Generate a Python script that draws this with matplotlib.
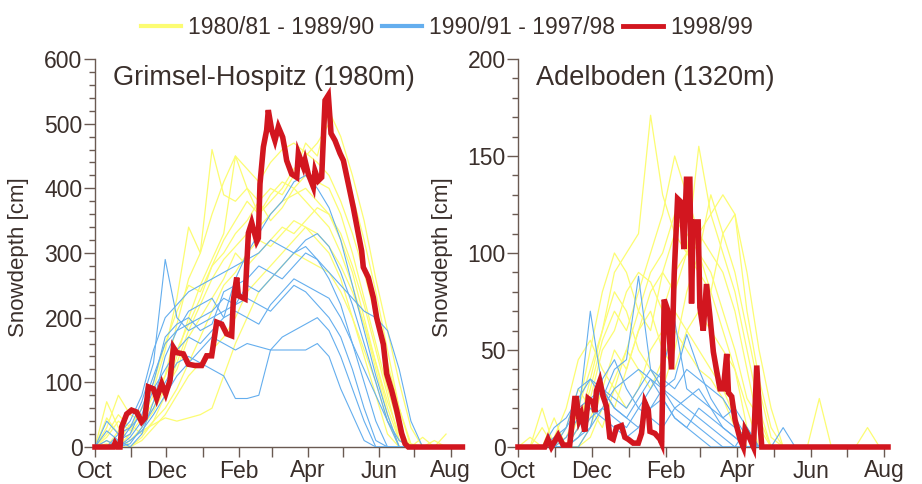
import numpy as np
import matplotlib
matplotlib.use("Agg")
import matplotlib.pyplot as plt
from matplotlib.lines import Line2D
from matplotlib.ticker import MultipleLocator, FixedLocator

plt.rcParams['font.family'] = ['Liberation Sans', 'DejaVu Sans']

# ---------------- data ----------------
month_days = [0, 31, 61, 92, 123, 151, 182, 212, 243, 273, 304]
month_labels = ["Oct", "", "Dec", "", "Feb", "", "Apr", "", "Jun", "", "Aug"]
legend_labels = ["1980/81 - 1989/90", "1990/91 - 1997/98", "1998/99"]
titles = ["Grimsel-Hospitz (1980m)", "Adelboden (1320m)"]

# common 10-day grid (days since 1 Oct) for the background seasons
bg_days = [0, 10, 20, 30, 40, 50, 60, 70, 80, 90, 100, 110, 120, 130, 140, 150,
           160, 170, 180, 190, 200, 210, 220, 230, 240, 250, 260, 270, 280, 290, 300]

# Grimsel 1980s (yellow)
g_y1 = [0, 15, 40, 25, 60, 90, 150, 230, 340, 300, 360, 410, 450, 430, 410, 440, 460, 470, 455, 440, 420, 380, 330, 270, 200, 130, 60, 0, 0, 0, 0]
g_y2 = [0, 5, 0, 20, 45, 80, 110, 190, 260, 300, 460, 390, 380, 400, 360, 380, 400, 430, 450, 470, 500, 450, 390, 320, 240, 150, 60, 5, 0, 0, 0]
g_y3 = [0, 70, 30, 10, 30, 55, 90, 140, 200, 250, 290, 330, 450, 400, 380, 350, 370, 400, 380, 360, 340, 300, 250, 190, 120, 50, 0, 0, 0, 10, 0]
g_y4 = [0, 0, 10, 35, 20, 40, 60, 90, 130, 170, 210, 250, 270, 300, 320, 310, 330, 350, 340, 320, 300, 260, 200, 140, 80, 20, 0, 0, 0, 0, 0]
g_y5 = [0, 30, 80, 50, 40, 60, 110, 150, 190, 230, 280, 300, 330, 350, 380, 400, 390, 420, 470, 450, 520, 480, 420, 350, 260, 180, 100, 30, 0, 0, 0]
g_y6 = [0, 0, 0, 10, 25, 35, 45, 40, 45, 50, 60, 110, 160, 200, 240, 260, 280, 300, 290, 280, 270, 240, 200, 150, 100, 40, 0, 0, 0, 0, 0]
g_y7 = [0, 20, 50, 30, 60, 100, 160, 210, 250, 240, 280, 320, 350, 380, 360, 390, 410, 400, 420, 410, 400, 360, 300, 230, 160, 90, 30, 0, 15, 0, 0]
g_y8 = [0, 0, 25, 60, 40, 70, 90, 120, 170, 200, 230, 260, 300, 280, 300, 320, 340, 330, 350, 370, 360, 330, 280, 220, 150, 80, 10, 0, 0, 0, 0]
g_y9 = [0, 45, 20, 0, 15, 40, 80, 130, 180, 220, 260, 290, 310, 330, 340, 360, 380, 390, 400, 380, 360, 320, 270, 200, 130, 60, 10, 0, 0, 0, 20]
g_y10 = [0, 10, 0, 0, 10, 30, 50, 80, 110, 130, 150, 170, 200, 240, 260, 280, 300, 320, 340, 330, 310, 280, 240, 190, 130, 70, 20, 0, 0, 0, 0]

# Grimsel 1990s (blue)
g_b1 = [0, 0, 10, 20, 60, 110, 160, 180, 190, 200, 210, 230, 220, 250, 240, 260, 280, 300, 310, 290, 260, 220, 160, 100, 40, 0, 0, 0, 0, 0, 0]
g_b2 = [0, 40, 20, 30, 70, 130, 290, 200, 180, 190, 200, 210, 220, 230, 220, 210, 230, 250, 240, 220, 200, 170, 120, 60, 10, 0, 0, 0, 0, 0, 0]
g_b3 = [0, 0, 0, 15, 40, 90, 120, 150, 170, 160, 180, 200, 260, 300, 330, 360, 380, 410, 420, 400, 370, 320, 250, 180, 110, 50, 0, 0, 0, 0, 0]
g_b4 = [0, 10, 0, 5, 30, 60, 100, 130, 140, 130, 120, 110, 75, 75, 80, 150, 170, 180, 190, 200, 180, 140, 90, 40, 0, 0, 0, 0, 0, 0, 0]
g_b5 = [0, 0, 20, 40, 80, 150, 200, 220, 240, 250, 260, 270, 280, 290, 300, 320, 310, 300, 320, 330, 310, 270, 220, 160, 100, 40, 0, 0, 0, 0, 0]
g_b6 = [0, 0, 0, 10, 25, 50, 80, 110, 130, 150, 170, 160, 150, 160, 155, 150, 150, 150, 150, 160, 140, 90, 50, 10, 0, 0, 0, 0, 0, 0, 0]
g_b7 = [0, 25, 10, 0, 20, 70, 140, 180, 210, 220, 230, 200, 210, 200, 190, 220, 240, 260, 250, 240, 230, 200, 160, 120, 80, 40, 10, 0, 0, 0, 0]
g_b8 = [0, 0, 5, 30, 50, 100, 170, 190, 200, 180, 190, 240, 250, 260, 280, 270, 260, 280, 300, 290, 270, 250, 230, 210, 200, 180, 120, 40, 0, 0, 0]

# Grimsel 1998/99 (red)
g_red_days = [0, 15.7, 17.1, 19.1, 21.4, 22.8, 27.1, 31.3, 35.6, 39.9, 42.7, 45.6, 49.9, 52.7, 57.0,
              60.4, 64.1, 67.0, 69.8, 75.5, 79.8, 85.5, 91.2, 95.4, 99.7, 104.0, 108.3, 112.5, 116.8,
              118.2, 121.1, 122.5, 128.2, 131.1, 133.9, 138.2, 139.6, 141.0, 143.9, 146.7, 148.1, 151.0,
              153.8, 156.7, 160.4, 162.4, 163.8, 168.1, 172.4, 173.8, 178.1, 179.5, 182.3, 186.6, 188.0,
              190.9, 193.7, 196.6, 199.4, 201.7, 205.1, 209.4, 212.3, 216.5, 220.8, 225.1, 227.9, 229.3,
              233.6, 237.9, 240.7, 246.4, 249.3, 253.6, 257.8, 262.1, 265.0, 267.8, 314]
g_red_vals = [0, 0, 6, 0, 0, 31, 51, 57, 54, 39, 45, 93, 90, 75, 98,
              82, 103, 154, 146, 144, 128, 126, 126, 141, 141, 193, 190, 175, 172,
              226, 262, 234, 229, 331, 347, 318, 323, 407, 464, 490, 521, 490,
              474, 495, 479, 459, 443, 422, 417, 454, 433, 443, 422, 402, 427,
              412, 417, 536, 544, 485, 474, 454, 443, 407, 370, 329, 303, 278,
              262, 231, 200, 159, 113, 87, 57, 21, 5, 0, 0]

# Adelboden 1980s (yellow)
a_y1 = [0, 0, 0, 0, 5, 20, 40, 60, 90, 100, 110, 171, 130, 110, 120, 100, 80, 60, 40, 10, 0, 0, 0, 0, 0, 0, 0, 0, 0, 0, 0]
a_y2 = [0, 0, 0, 15, 0, 10, 30, 55, 70, 60, 80, 100, 120, 150, 130, 110, 100, 90, 70, 40, 10, 0, 0, 0, 0, 0, 0, 0, 0, 0, 0]
a_y3 = [0, 0, 10, 0, 0, 20, 50, 80, 100, 90, 70, 60, 90, 110, 100, 155, 120, 100, 80, 50, 20, 0, 0, 0, 0, 0, 0, 0, 0, 0, 0]
a_y4 = [0, 0, 0, 0, 10, 30, 20, 10, 30, 50, 70, 90, 100, 120, 110, 100, 130, 110, 90, 60, 30, 5, 0, 0, 0, 0, 0, 0, 0, 0, 0]
a_y5 = [0, 0, 0, 0, 0, 0, 10, 30, 50, 40, 60, 80, 90, 80, 100, 110, 120, 130, 120, 90, 50, 20, 0, 0, 0, 0, 0, 0, 0, 0, 0]
a_y6 = [0, 0, 0, 5, 20, 45, 55, 40, 30, 20, 30, 50, 60, 70, 60, 50, 40, 30, 15, 0, 0, 0, 0, 0, 0, 0, 0, 0, 0, 0, 0]
a_y7 = [0, 0, 0, 0, 0, 15, 25, 50, 60, 80, 90, 85, 70, 90, 100, 90, 80, 110, 120, 70, 35, 10, 0, 0, 0, 0, 0, 0, 0, 0, 0]
a_y8 = [0, 0, 20, 0, 0, 5, 15, 30, 20, 40, 60, 70, 50, 40, 60, 70, 60, 50, 40, 20, 0, 0, 0, 0, 0, 25, 0, 0, 0, 0, 0]
a_y9 = [0, 0, 0, 0, 0, 10, 35, 60, 80, 70, 50, 40, 30, 50, 80, 100, 90, 70, 50, 25, 15, 0, 0, 0, 0, 0, 0, 0, 0, 10, 0]
a_y10 = [0, 5, 0, 0, 0, 0, 5, 20, 35, 50, 40, 30, 45, 60, 50, 40, 35, 25, 10, 0, 0, 0, 0, 0, 0, 0, 0, 0, 0, 0, 0]

# Adelboden 1990s (blue)
a_b1 = [0, 0, 0, 0, 5, 15, 70, 30, 20, 15, 10, 20, 25, 15, 10, 5, 0, 0, 0, 0, 0, 0, 0, 0, 0, 0, 0, 0, 0, 0, 0]
a_b2 = [0, 0, 0, 0, 10, 30, 35, 25, 40, 45, 88, 40, 30, 20, 15, 10, 5, 0, 0, 0, 0, 0, 0, 0, 0, 0, 0, 0, 0, 0, 0]
a_b3 = [0, 0, 0, 0, 0, 5, 10, 20, 15, 10, 20, 30, 40, 65, 30, 25, 20, 10, 5, 0, 0, 0, 0, 0, 0, 0, 0, 0, 0, 0, 0]
a_b4 = [0, 0, 0, 5, 10, 20, 25, 30, 20, 15, 25, 35, 30, 35, 58, 40, 25, 15, 10, 5, 0, 0, 0, 0, 0, 0, 0, 0, 0, 0, 0]
a_b5 = [0, 0, 0, 0, 0, 0, 10, 35, 45, 30, 20, 15, 10, 20, 25, 30, 20, 15, 20, 10, 0, 0, 0, 0, 0, 0, 0, 0, 0, 0, 0]
a_b6 = [0, 0, 0, 0, 0, 10, 20, 15, 10, 5, 10, 20, 30, 25, 20, 15, 10, 5, 0, 10, 0, 0, 10, 0, 0, 0, 0, 0, 0, 0, 0]
a_b7 = [0, 0, 0, 10, 15, 25, 35, 30, 25, 20, 30, 40, 35, 30, 40, 35, 30, 25, 15, 5, 0, 0, 0, 0, 0, 0, 0, 0, 0, 0, 0]
a_b8 = [0, 0, 0, 0, 0, 5, 15, 20, 30, 35, 40, 35, 25, 15, 10, 20, 15, 10, 5, 0, 0, 0, 0, 0, 0, 0, 0, 0, 0, 0, 0]

# Adelboden 1998/99 (red)
a_red_days = [0, 22.2, 24.9, 27.7, 33.3, 37.4, 42.9, 47.1, 48.5, 50.7, 52.6, 55.4, 58.2, 62.3, 63.7,
              65.1, 67.9, 70.7, 73.4, 76.2, 79.0, 81.7, 85.9, 88.7, 91.4, 95.6, 99.8, 102.5, 105.3,
              108.1, 109.5, 113.6, 117.8, 119.2, 121.3, 124.0, 127.4, 129.6, 132.4, 135.7, 137.6, 139.8,
              142.6, 144.0, 145.4, 149.5, 150.9, 153.7, 156.4, 159.3, 162.1, 164.9, 167.6, 170.4, 173.2,
              174.6, 177.3, 180.1, 184.3, 187.0, 188.4, 192.6, 195.4, 198.1, 200.9, 202.3, 307]
a_red_vals = [0, 0, 4, 0, 6, 1, 1, 25, 25, 14, 17, 8, 25, 23, 18,
              29, 34, 26, 21, 5, 4, 10, 11, 5, 4, 2, 2, 7, 23,
              19, 8, 7, 4, 2, 76, 71, 40, 89, 128, 126, 102, 138,
              138, 74, 116, 116, 72, 60, 84, 67, 49, 39, 30, 30, 48,
              28, 26, 14, 4, 0, 9, 4, 0, 42, 11, 0, 0]

# ---------------- style ----------------
c_yel = "#fcfc72"
c_blu = "#64aeee"
c_red = "#d2161f"
c_axis = "#6a5a52"
c_text = "#3a2f2b"

fig = plt.figure(figsize=(9.22, 4.84), dpi=100)
ax1 = fig.add_axes([95 / 922, 1 - 447 / 484, 368 / 922, 388 / 484])
ax2 = fig.add_axes([518 / 922, 1 - 447 / 484, 370 / 922, 388 / 484])

panels = [
    (ax1, [g_y1, g_y2, g_y3, g_y4, g_y5, g_y6, g_y7, g_y8, g_y9, g_y10],
     [g_b1, g_b2, g_b3, g_b4, g_b5, g_b6, g_b7, g_b8], g_red_days, g_red_vals, 600, 100, 20, 314.5),
    (ax2, [a_y1, a_y2, a_y3, a_y4, a_y5, a_y6, a_y7, a_y8, a_y9, a_y10],
     [a_b1, a_b2, a_b3, a_b4, a_b5, a_b6, a_b7, a_b8], a_red_days, a_red_vals, 200, 50, 10, 307),
]

for i, (ax, ys, bs, rd, rv, ymax, ymaj, ymin, xmax) in enumerate(panels):
    for s in ys:
        ax.plot(bg_days, s, color=c_yel, lw=0.9, zorder=2)
    for s in bs:
        ax.plot(bg_days, s, color=c_blu, lw=0.8, zorder=3)
    ax.plot(rd, rv, color=c_red, lw=4.0, zorder=5, clip_on=False,
            solid_joinstyle='miter')
    ax.set_xlim(0, xmax)
    ax.set_ylim(0, ymax)
    for sp in ["top", "right"]:
        ax.spines[sp].set_visible(False)
    for sp in ["left", "bottom"]:
        ax.spines[sp].set_color(c_axis)
        ax.spines[sp].set_linewidth(1.0)
    ax.xaxis.set_major_locator(FixedLocator(month_days))
    ax.set_xticklabels(month_labels)
    ax.yaxis.set_major_locator(MultipleLocator(ymaj))
    ax.yaxis.set_minor_locator(MultipleLocator(ymin))
    ax.tick_params(axis="x", which="major", length=7, width=1.0, color=c_axis,
                   labelsize=16.5, labelcolor=c_text, pad=2)
    ax.tick_params(axis="y", which="major", length=8, width=1.0, color=c_axis,
                   labelsize=16.5, labelcolor=c_text, pad=1)
    ax.tick_params(axis="y", which="minor", length=4, width=1.0, color=c_axis)
    ax.set_ylabel("Snowdepth [cm]", fontsize=16, color=c_text)
    ax.patch.set_alpha(0)
    ax.text(0.049, 0.95, titles[i], transform=ax.transAxes, fontsize=19.5,
            color=c_text, ha="left", va="center")

ax1.yaxis.set_label_coords(-0.18, 0.49)
ax2.yaxis.set_label_coords(-0.175, 0.49)

handles = [Line2D([], [], color=c_yel, lw=3), Line2D([], [], color=c_blu, lw=3),
           Line2D([], [], color=c_red, lw=3.5)]
leg = fig.legend(handles, legend_labels, loc="upper center", bbox_to_anchor=(0.485, 1.01),
                 ncol=3, frameon=False, fontsize=16.5, handlelength=1.75,
                 handletextpad=0.3, columnspacing=0.35)
for t in leg.get_texts():
    t.set_color(c_text)

fig.savefig("out.png", dpi=100)
